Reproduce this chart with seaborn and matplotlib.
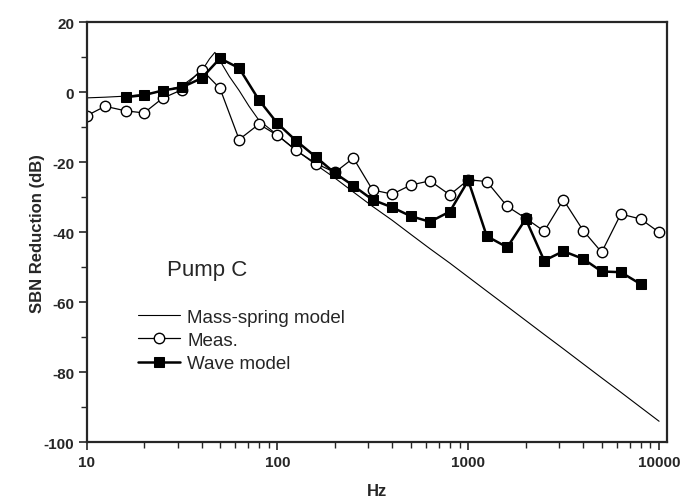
import pandas as pd
import seaborn as sns
import matplotlib.pyplot as plt
from matplotlib.ticker import LogLocator, MultipleLocator, NullFormatter

# Mass-spring model (thin line)
spring_hz = [10, 12.5, 16, 20, 25, 31.5, 40, 44, 47, 50, 56, 63, 71, 80, 100,
             125, 160, 200, 250, 315, 400, 500, 630, 800, 1000, 1250, 1600,
             2000, 2500, 3150, 4000, 5000, 6300, 8000, 10000]
spring_db = [-1.6, -1.4, -1.1, -0.6, 0.3, 1.8, 6.0, 9.5, 11.4, 9.0, 4.5, 0.5,
             -4.0, -8.0, -12.2, -16.5, -20.8, -24.5, -28.5, -32.6, -36.6,
             -40.6, -44.7, -48.8, -52.8, -56.8, -61.2, -65.2, -69.2, -73.3,
             -77.6, -81.6, -85.7, -90.0, -94.0]

# Measurement (open circles)
meas_hz = [10, 12.5, 16, 20, 25, 31.5, 40, 50, 63, 80, 100, 125, 160, 200,
           250, 315, 400, 500, 630, 800, 1000, 1250, 1600, 2000, 2500, 3150,
           4000, 5000, 6300, 8000, 10000]
meas_db = [-6.7, -4.0, -5.3, -5.9, -1.7, 0.7, 6.5, 1.1, -13.5, -9.1, -12.3,
           -16.6, -20.4, -22.9, -18.8, -27.9, -29.1, -26.5, -25.3, -29.3,
           -25.0, -25.5, -32.6, -36.0, -39.7, -30.7, -39.5, -45.7, -34.8,
           -36.2, -40.0]

# Wave model (filled squares)
wave_hz = [16, 20, 25, 31.5, 40, 50, 63, 80, 100, 125, 160, 200, 250, 315,
           400, 500, 630, 800, 1000, 1250, 1600, 2000, 2500, 3150, 4000, 5000,
           6300, 8000]
wave_db = [-1.4, -0.8, 0.5, 1.4, 4.0, 9.7, 6.9, -2.2, -8.9, -13.8, -18.6,
           -23.1, -26.7, -30.7, -32.9, -35.4, -37.0, -34.1, -25.2, -41.1,
           -44.3, -36.2, -48.1, -45.4, -47.6, -51.2, -51.4, -54.8]

sns.set_style('ticks')
plt.rcParams['font.family'] = ['Liberation Sans', 'DejaVu Sans']
plt.rcParams['axes.unicode_minus'] = False

fig = plt.figure(figsize=(6.82, 5.02), dpi=100)
ax = fig.add_axes([0.127, 0.117, 0.851, 0.8366])

sns.lineplot(x=spring_hz, y=spring_db, ax=ax, color='black', linewidth=0.8,
             label='Mass-spring model')
sns.lineplot(x=meas_hz, y=meas_db, ax=ax, color='black', linewidth=0.9,
             marker='o', markersize=7.5, markerfacecolor='white',
             markeredgecolor='black', markeredgewidth=1.0, label='Meas.')
sns.lineplot(x=wave_hz, y=wave_db, ax=ax, color='black', linewidth=1.8,
             marker='s', markersize=6.5, markerfacecolor='black',
             markeredgecolor='black', label='Wave model')

ax.set_xscale('log')
ax.set_xlim(10, 11000)
ax.set_ylim(-100, 20)
ax.set_xticks([10, 100, 1000, 10000])
ax.set_xticklabels(['10', '100', '1000', '10000'])
ax.xaxis.set_minor_locator(LogLocator(base=10, subs=range(2, 10)))
ax.xaxis.set_minor_formatter(NullFormatter())
ax.yaxis.set_major_locator(MultipleLocator(20))
ax.yaxis.set_minor_locator(MultipleLocator(10))

ax.tick_params(which='major', direction='out', length=6, width=1.2,
               labelsize=11, pad=3)
ax.tick_params(which='minor', direction='out', length=4, width=1.0)
for lab in ax.get_xticklabels() + ax.get_yticklabels():
    lab.set_fontweight('bold')
for sp in ax.spines.values():
    sp.set_linewidth(1.6)

ax.set_xlabel('Hz', fontsize=12, fontweight='bold', labelpad=10)
ax.set_ylabel('SBN Reduction (dB)', fontsize=12, fontweight='bold', labelpad=-1)

ax.text(26.3, -50.6, 'Pump C', fontsize=16, va='center', ha='left')

ax.legend(loc='upper left', bbox_to_anchor=(0.089, 0.318), frameon=False,
          fontsize=13.5, handlelength=2.2, handletextpad=0.4,
          labelspacing=0.32, borderpad=0, borderaxespad=0)

fig.savefig('out.png', dpi=100)
